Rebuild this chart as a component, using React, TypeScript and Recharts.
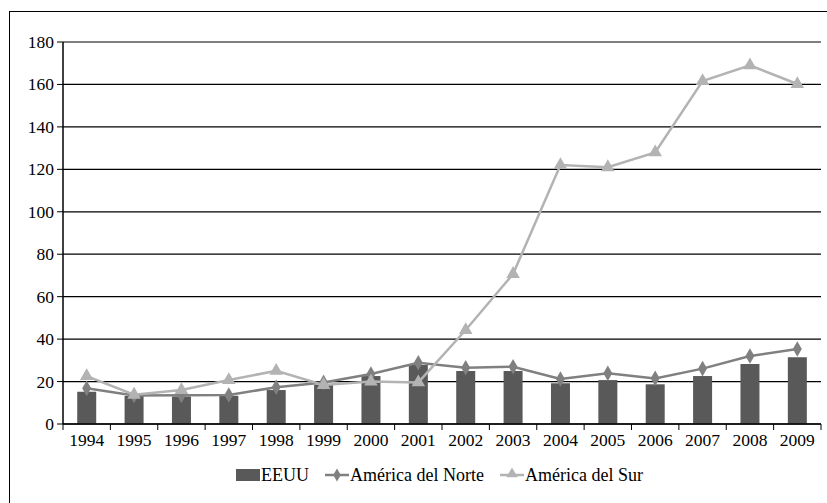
import { ComposedChart, Bar, Line, XAxis, YAxis, CartesianGrid, Legend, Symbols } from 'recharts';

const years = ['1994', '1995', '1996', '1997', '1998', '1999', '2000', '2001', '2002', '2003', '2004', '2005', '2006', '2007', '2008', '2009'];
const eeuu = [15.2, 13.2, 13.0, 13.3, 16.0, 18.5, 22.6, 27.8, 25.0, 25.0, 19.2, 20.7, 18.7, 22.6, 28.3, 31.4];
const norte = [16.8, 13.4, 13.5, 13.7, 17.3, 19.6, 23.6, 28.9, 26.5, 27.0, 21.2, 23.9, 21.5, 26.1, 32.0, 35.3];
const sur = [22.6, 13.8, 16.0, 20.7, 25.1, 18.4, 20.0, 19.6, 44.3, 70.7, 122.0, 121.0, 128.0, 161.6, 169.0, 160.2];
const yTicks = [0, 20, 40, 60, 80, 100, 120, 140, 160, 180];

const data = years.map((y, i) => ({ year: y, eeuu: eeuu[i], norte: norte[i], sur: sur[i] }));

const FONT = '"Liberation Serif", serif';
const FS = 17.5;
const BAR = '#595959';
const NORTE = '#808080';
const SUR = '#b3b3b3';

function XTick(props: any) {
  const { x, y, payload, index, width } = props;
  const band = width / years.length;
  const left = x - band / 2;
  return (
    <g>
      <line x1={left} y1={y - 8} x2={left} y2={y - 2} stroke="#000" strokeWidth={1} />
      {index === years.length - 1 && (
        <line x1={left + band} y1={y - 8} x2={left + band} y2={y - 2} stroke="#000" strokeWidth={1} />
      )}
      <text x={x} y={y + 14} textAnchor="middle" style={{ fontFamily: FONT, fontSize: FS }} fill="#000">
        {payload.value}
      </text>
    </g>
  );
}

function YTick(props: any) {
  const { x, y, payload } = props;
  return (
    <text x={x - 1} y={y + 6} textAnchor="end" style={{ fontFamily: FONT, fontSize: FS }} fill="#000">
      {payload.value}
    </text>
  );
}

const Diamond = (props: any) => {
  const { cx, cy } = props;
  if (cx == null || cy == null) return null;
  return <Symbols cx={cx} cy={cy} type="diamond" size={70} fill={NORTE} stroke="none" />;
};

const Triangle = (props: any) => {
  const { cx, cy } = props;
  if (cx == null || cy == null) return null;
  return <Symbols cx={cx} cy={cy} type="triangle" size={80} fill={SUR} stroke="none" />;
};

function LegendContent() {
  const items = [
    { label: 'EEUU', kind: 'bar' },
    { label: 'América del Norte', kind: 'diamond' },
    { label: 'América del Sur', kind: 'triangle' },
  ];
  return (
    <div style={{ display: 'flex', justifyContent: 'center', gap: 16, paddingLeft: 58, fontFamily: FONT, fontSize: 18, color: '#000', lineHeight: '20px' }}>
      {items.map((it) => (
        <div key={it.label} style={{ display: 'flex', alignItems: 'center' }}>
          <svg width={24} height={14} style={{ marginRight: 1 }}>
            {it.kind === 'bar' && <rect x={0} y={1} width={24} height={12} fill={BAR} />}
            {it.kind === 'diamond' && (
              <g>
                <line x1={0} y1={7} x2={24} y2={7} stroke={NORTE} strokeWidth={2.5} />
                <Symbols cx={12} cy={7} type="diamond" size={50} fill={NORTE} />
              </g>
            )}
            {it.kind === 'triangle' && (
              <g>
                <line x1={0} y1={7} x2={24} y2={7} stroke={SUR} strokeWidth={2.5} />
                <Symbols cx={12} cy={6} type="triangle" size={55} fill={SUR} />
              </g>
            )}
          </svg>
          <span>{it.label}</span>
        </div>
      ))}
    </div>
  );
}

export default function App() {
  return (
    <div style={{ position: 'absolute', left: 0, top: 0, width: 827, height: 503, overflow: 'hidden', background: '#fff' }}>
      <div style={{ position: 'absolute', left: 9, top: 11, width: 840, height: 520, borderTop: '1.5px solid #000', borderLeft: '1.5px solid #000' }} />
      <ComposedChart
        width={827}
        height={503}
        data={data}
        margin={{ top: 42, right: 6, bottom: 30, left: 0 }}
        barCategoryGap="30%"
        style={{ position: 'absolute', left: 0, top: 0 }}
      >
        <CartesianGrid vertical={false} stroke="#000" strokeWidth={1.2} />
        <XAxis
          dataKey="year"
          interval={0}
          tickLine={false}
          tick={<XTick />}
          axisLine={{ stroke: '#000', strokeWidth: 1.5 }}
          height={29}
        />
        <YAxis
          domain={[0, 180]}
          ticks={yTicks}
          interval={0}
          width={63}
          tickSize={6}
          tickLine={{ stroke: '#000' }}
          axisLine={{ stroke: '#000', strokeWidth: 1.5 }}
          tick={<YTick />}
        />
        <Bar dataKey="eeuu" name="EEUU" fill={BAR} isAnimationActive={false} />
        <Line dataKey="norte" name="América del Norte" stroke={NORTE} strokeWidth={2.5} dot={<Diamond />} activeDot={false} isAnimationActive={false} />
        <Line dataKey="sur" name="América del Sur" stroke={SUR} strokeWidth={2.5} dot={<Triangle />} activeDot={false} isAnimationActive={false} />
        <Legend verticalAlign="bottom" content={<LegendContent />} wrapperStyle={{ bottom: 18 }} />
      </ComposedChart>
    </div>
  );
}
